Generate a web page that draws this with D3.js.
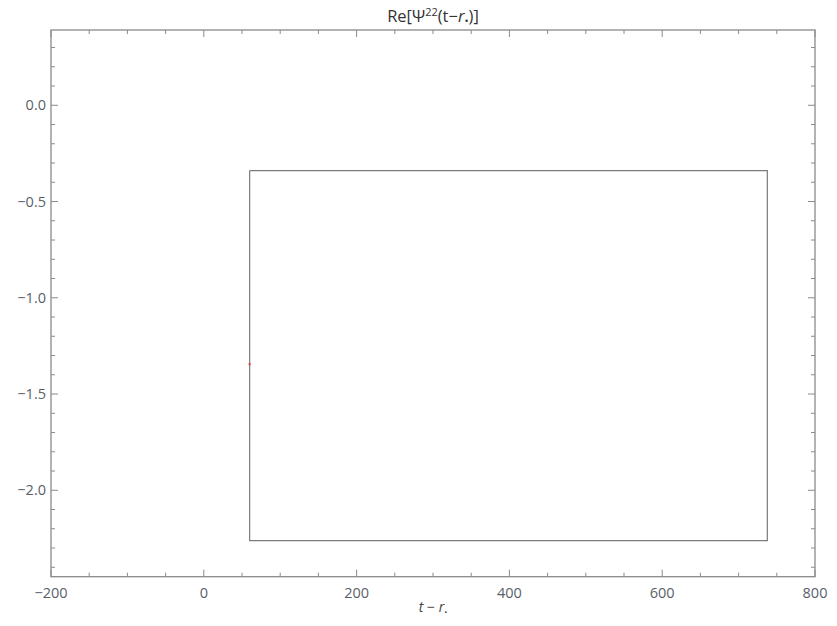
<!DOCTYPE html>
<html lang="en">
<head>
<meta charset="UTF-8">
<title>Re[Ψ22(t-r*)]</title>
<script src="https://d3js.org/d3.v7.min.js"></script>
<style>
  body { margin: 0; background: #fff; }
  text { font-family: "Open Sans", "Noto Sans", sans-serif; }
</style>
</head>
<body>
<svg id="chart" width="837" height="626"></svg>
<script>
// data
const xDomain = [-200, 800];
const yDomain = [-2.449, 0.391];
const xMajor = [-200, 0, 200, 400, 600, 800];
const yMajor = [0.0, -0.5, -1.0, -1.5, -2.0];
const boxT = [60, 737.6, 737.6, 60, 60];
const boxRe = [-0.34, -0.34, -2.262, -2.262, -0.34];
const redT = [60];
const redRe = [-1.345];

const margin = { top: 30, right: 22, bottom: 49.3, left: 51 };
const width = 837 - margin.left - margin.right;
const height = 626 - margin.top - margin.bottom;

const svg = d3.select('#chart')
  .append('g')
  .attr('transform', `translate(${margin.left},${margin.top})`);

const x = d3.scaleLinear().domain(xDomain).range([0, width]);
const y = d3.scaleLinear().domain(yDomain).range([height, 0]);

const frameColor = '#8a8a8a';
const labelColor = '#5a5f6a';

const xMinor = d3.range(-150, 800, 50).filter(v => !xMajor.includes(v));
const yMinor = d3.range(-24, 4, 1).map(v => v / 10).filter(v => !yMajor.some(m => Math.abs(m - v) < 1e-9));

function ticks(sel, vals, len, horiz, pos) {
  sel.selectAll(null).data(vals).enter().append('line')
    .attr('x1', d => horiz ? x(d) : pos)
    .attr('x2', d => horiz ? x(d) : pos + len)
    .attr('y1', d => horiz ? pos : y(d))
    .attr('y2', d => horiz ? pos + len : y(d))
    .attr('stroke', frameColor)
    .attr('stroke-width', 1);
}

const tg = svg.append('g');
// bottom / top
ticks(tg, xMajor, -7, true, height);
ticks(tg, xMinor, -4, true, height);
ticks(tg, xMajor, 7, true, 0);
ticks(tg, xMinor, 4, true, 0);
// left / right
ticks(tg, yMajor, 7, false, 0);
ticks(tg, yMinor, 4, false, 0);
ticks(tg, yMajor, -7, false, width);
ticks(tg, yMinor, -4, false, width);

// frame
svg.append('rect')
  .attr('x', 0).attr('y', 0)
  .attr('width', width).attr('height', height)
  .attr('fill', 'none')
  .attr('stroke', frameColor)
  .attr('stroke-width', 1.3);

const fmtMinus = s => s.replace('-', '\u2212');

svg.selectAll('.xlab').data(xMajor).enter().append('text')
  .attr('class', 'xlab')
  .attr('x', d => x(d))
  .attr('y', height + 21)
  .attr('text-anchor', 'middle')
  .attr('fill', labelColor)
  .style('font-size', '14.5px')
  .text(d => fmtMinus(String(d)));

svg.selectAll('.ylab').data(yMajor).enter().append('text')
  .attr('class', 'ylab')
  .attr('x', -5)
  .attr('y', d => y(d) + 5)
  .attr('text-anchor', 'end')
  .attr('fill', labelColor)
  .style('font-size', '14.5px')
  .text(d => fmtMinus(d3.format('.1f')(d)));

// data line
const boxData = boxT.map((t, i) => ({ t: t, v: boxRe[i] }));
svg.append('path')
  .datum(boxData)
  .attr('fill', 'none')
  .attr('stroke', '#7b7b7b')
  .attr('stroke-width', 1.2)
  .attr('d', d3.line().x(d => x(d.t)).y(d => y(d.v)));

svg.selectAll('.red').data(redT.map((t, i) => ({ t: t, v: redRe[i] }))).enter()
  .append('rect')
  .attr('x', d => x(d.t) - 1)
  .attr('y', d => y(d.v) - 1)
  .attr('width', 2).attr('height', 2)
  .attr('fill', '#e0402a');

// title
const title = d3.select('#chart').append('text')
  .attr('x', margin.left + width / 2)
  .attr('y', 22)
  .attr('text-anchor', 'middle')
  .attr('fill', '#333')
  .style('font-size', '16.5px');
title.append('tspan').text('Re[Ψ');
title.append('tspan').attr('dy', -6).style('font-size', '11px').text('22');
title.append('tspan').attr('dy', 6).text('(t\u2212');
title.append('tspan').style('font-style', 'italic').text('r');
title.append('tspan').attr('dy', 3).style('font-size', '11px').text('\u2022');
title.append('tspan').attr('dy', -3).text(')]');

// x label
const xl = d3.select('#chart').append('text')
  .attr('x', margin.left + width / 2)
  .attr('y', 612)
  .attr('text-anchor', 'middle')
  .attr('fill', '#444')
  .style('font-size', '14px');
xl.append('tspan').style('font-style', 'italic').text('t');
xl.append('tspan').text(' \u2212 ');
xl.append('tspan').style('font-style', 'italic').text('r');
xl.append('tspan').attr('dy', 3).style('font-size', '8px').text('\u2022');
</script>
</body>
</html>
